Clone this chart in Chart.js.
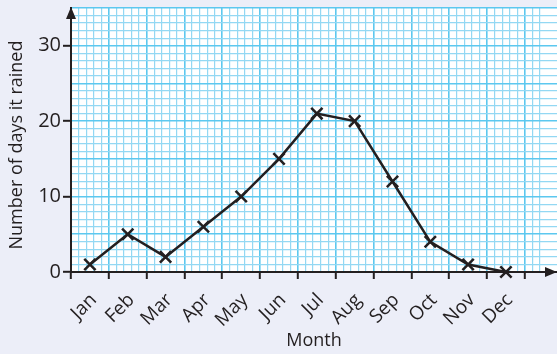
<!DOCTYPE html>
<html>
<head>
<meta charset="utf-8">
<script src="https://cdn.jsdelivr.net/npm/chart.js@4.4.1/dist/chart.umd.min.js"></script>
<style>
  html, body { margin: 0; padding: 0; background: #eceef8; }
  #wrap { width: 557px; height: 354px; position: relative; }
</style>
</head>
<body>
<div id="wrap"><canvas id="rain-chart"></canvas></div>
<script>
// Months along the bottom, days of rain per month
const months = ["Jan", "Feb", "Mar", "Apr", "May", "Jun", "Jul", "Aug", "Sep", "Oct", "Nov", "Dec"];
const rainyDays = [1, 5, 2, 6, 10, 15, 21, 20, 12, 4, 1, 0];
const yTickLabels = [0, 10, 20, 30];
const yMax = 35;
const yTitle = "Number of days it rained";

// x axis runs in tenths of a month so the graph paper lines fall on whole numbers
const TENTHS = 10;
const xMax = 128.5;

const INK = "#231f20";
const GRID_MAJOR = "#5cc8ef";
const GRID_MINOR = "#93d8f3";
const FAMILY = "'Open Sans', sans-serif";

const points = rainyDays.map((v, i) => ({ x: i * TENTHS + TENTHS / 2, y: v }));

// no extra room for tick labels past the plot edges
function noPad(s) {
  s.paddingLeft = 0;
  s.paddingRight = 0;
  s.paddingTop = 0;
  s.paddingBottom = 0;
}

// arrow heads on the two axes + the rotated y title
const axisDecor = {
  id: "axisDecor",
  afterDraw(chart) {
    const { ctx, chartArea } = chart;
    ctx.save();
    ctx.fillStyle = INK;
    ctx.beginPath();
    ctx.moveTo(chartArea.left, chartArea.top - 1);
    ctx.lineTo(chartArea.left - 5, chartArea.top + 11);
    ctx.lineTo(chartArea.left + 5, chartArea.top + 11);
    ctx.closePath();
    ctx.fill();
    ctx.beginPath();
    ctx.moveTo(chartArea.right, chartArea.bottom);
    ctx.lineTo(chartArea.right - 12, chartArea.bottom - 5);
    ctx.lineTo(chartArea.right - 12, chartArea.bottom + 5);
    ctx.closePath();
    ctx.fill();

    ctx.translate(17, 145);
    ctx.rotate(-Math.PI / 2);
    ctx.font = "18px " + FAMILY;
    ctx.textAlign = "center";
    ctx.textBaseline = "middle";
    ctx.fillText(yTitle, 0, 0);
    ctx.restore();
  }
};

const paperFill = {
  id: "paperFill",
  beforeDraw(chart) {
    const { ctx, chartArea } = chart;
    ctx.save();
    ctx.fillStyle = "#ffffff";
    ctx.fillRect(chartArea.left, chartArea.top, chartArea.right - chartArea.left, chartArea.bottom - chartArea.top);
    ctx.restore();
  }
};

new Chart(document.getElementById("rain-chart"), {
  type: "scatter",
  data: {
    datasets: [{
      data: points,
      showLine: true,
      borderColor: INK,
      borderWidth: 2.5,
      tension: 0,
      pointStyle: "crossRot",
      pointRadius: 8,
      pointHoverRadius: 8,
      pointBorderColor: INK,
      pointBorderWidth: 2.5,
      clip: false
    }]
  },
  options: {
    responsive: true,
    maintainAspectRatio: false,
    animation: false,
    layout: { autoPadding: false, padding: { top: 8, right: 0, left: 0, bottom: 0 } },
    plugins: { legend: { display: false }, tooltip: { enabled: false } },
    scales: {
      x: {
        type: "linear",
        min: 0,
        max: xMax,
        afterFit: (s) => { s.height = 82; noPad(s); },
        ticks: {
          stepSize: 1,
          autoSkip: false,
          minRotation: 45,
          maxRotation: 45,
          padding: 10,
          color: INK,
          font: { family: FAMILY, size: 19 },
          callback: (v) => {
            const r = Math.round(v);
            // month name sits just right of its point
            return r % TENTHS === 6 ? months[(r - 6) / TENTHS] : "";
          }
        },
        grid: {
          lineWidth: (c) => Math.round(c.tick.value) % TENTHS === 0 ? 1.6 : 1.2,
          tickLength: 7,
          tickWidth: 2,
          color: (c) => {
            const r = Math.round(c.tick.value);
            if (r % TENTHS === 0) return GRID_MAJOR;
            if (r % 2 === 0) return GRID_MINOR;
            return "rgba(0,0,0,0)";
          },
          tickColor: (c) => Math.round(c.tick.value) % TENTHS === 0 ? INK : "rgba(0,0,0,0)"
        },
        border: { display: true, color: INK, width: 2 },
        title: {
          display: true,
          text: "Month",
          color: INK,
          font: { family: FAMILY, size: 18 },
          padding: { top: 0, bottom: 2 }
        }
      },
      y: {
        min: 0,
        max: yMax,
        afterFit: (s) => { s.width = 71; noPad(s); },
        ticks: {
          stepSize: 1,
          autoSkip: false,
          padding: 2,
          color: INK,
          font: { family: FAMILY, size: 20 },
          callback: (v) => yTickLabels.includes(v) ? String(v) : ""
        },
        grid: {
          lineWidth: (c) => c.tick.value % 5 === 0 ? 1.6 : 1.2,
          tickLength: 8,
          tickWidth: 2,
          color: (c) => c.tick.value % 5 === 0 ? GRID_MAJOR : GRID_MINOR,
          tickColor: (c) => yTickLabels.includes(c.tick.value) ? INK : "rgba(0,0,0,0)"
        },
        border: { display: true, color: INK, width: 2 }
      }
    }
  },
  plugins: [paperFill, axisDecor]
});
</script>
</body>
</html>
